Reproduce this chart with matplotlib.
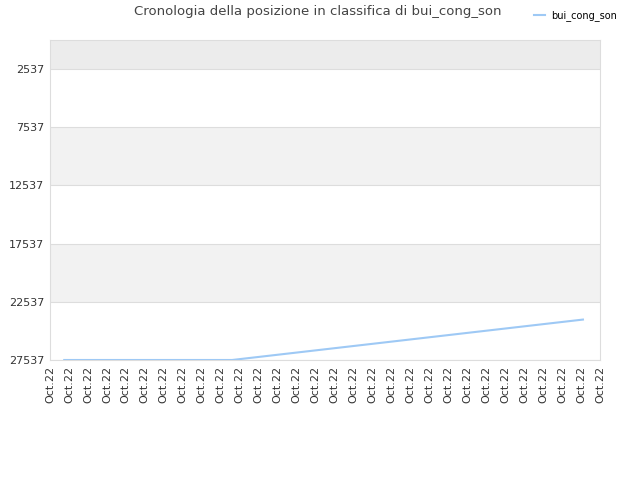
import matplotlib.pyplot as plt

# ~~~ DATA ~~~~~~~~~~~~~~~~~~~~~~~~~~~~~~~~~~~~~~~~~~~~~~~~~~~~~~~~~~~~~~~~~~~
tick_labels = ['Oct.22'] * 30
y_ticks = [2537, 7537, 12537, 17537, 22537, 27537]
# position along the date axis (in tick units) and rank
days = [0.75, 9.6, 28.1]
ranks = [27537, 27537, 24063]
player = 'bui_cong_son'

# ~~~ PLOT ~~~~~~~~~~~~~~~~~~~~~~~~~~~~~~~~~~~~~~~~~~~~~~~~~~~~~~~~~~~~~~~~~~~
fig = plt.figure(figsize=(6.4, 4.8), dpi=100)
ax = fig.add_axes([50 / 640, 120 / 480, 550 / 640, 320 / 480])

ymin, ymax = 27537, 40
ax.set_ylim(ymin, ymax)
ax.set_xlim(0, len(tick_labels) - 1)

# alternating bands
ax.axhspan(ymax, y_ticks[0], color='#ececec', zorder=0, lw=0)
for lo, hi in [(7537, 12537), (17537, 22537)]:
    ax.axhspan(lo, hi, color='#f2f2f2', zorder=0, lw=0)
for yt in y_ticks:
    ax.axhline(yt, color='#dddddd', lw=0.8, zorder=1)

ax.plot(days, ranks, color='#9ec9f5', lw=1.5, label=player, zorder=3)

ax.set_yticks(y_ticks)
ax.set_yticklabels([str(v) for v in y_ticks], fontsize=8, color='#333333')
ax.set_xticks(range(len(tick_labels)))
ax.set_xticklabels(tick_labels, rotation=90, fontsize=8, color='#333333')
ax.tick_params(length=0, pad=4)

for s in ax.spines.values():
    s.set_color('#dddddd')

fig.text(318 / 640, 1 - 12 / 480, 'Cronologia della posizione in classifica di ' + player,
         ha='center', va='center', fontsize=9.5, color='#444444')
fig.legend(loc='center left', bbox_to_anchor=(525 / 640, 1 - 16 / 480), frameon=False,
           fontsize=7, handlelength=1.2, handletextpad=0.6)

plt.savefig('out.png', dpi=100)
